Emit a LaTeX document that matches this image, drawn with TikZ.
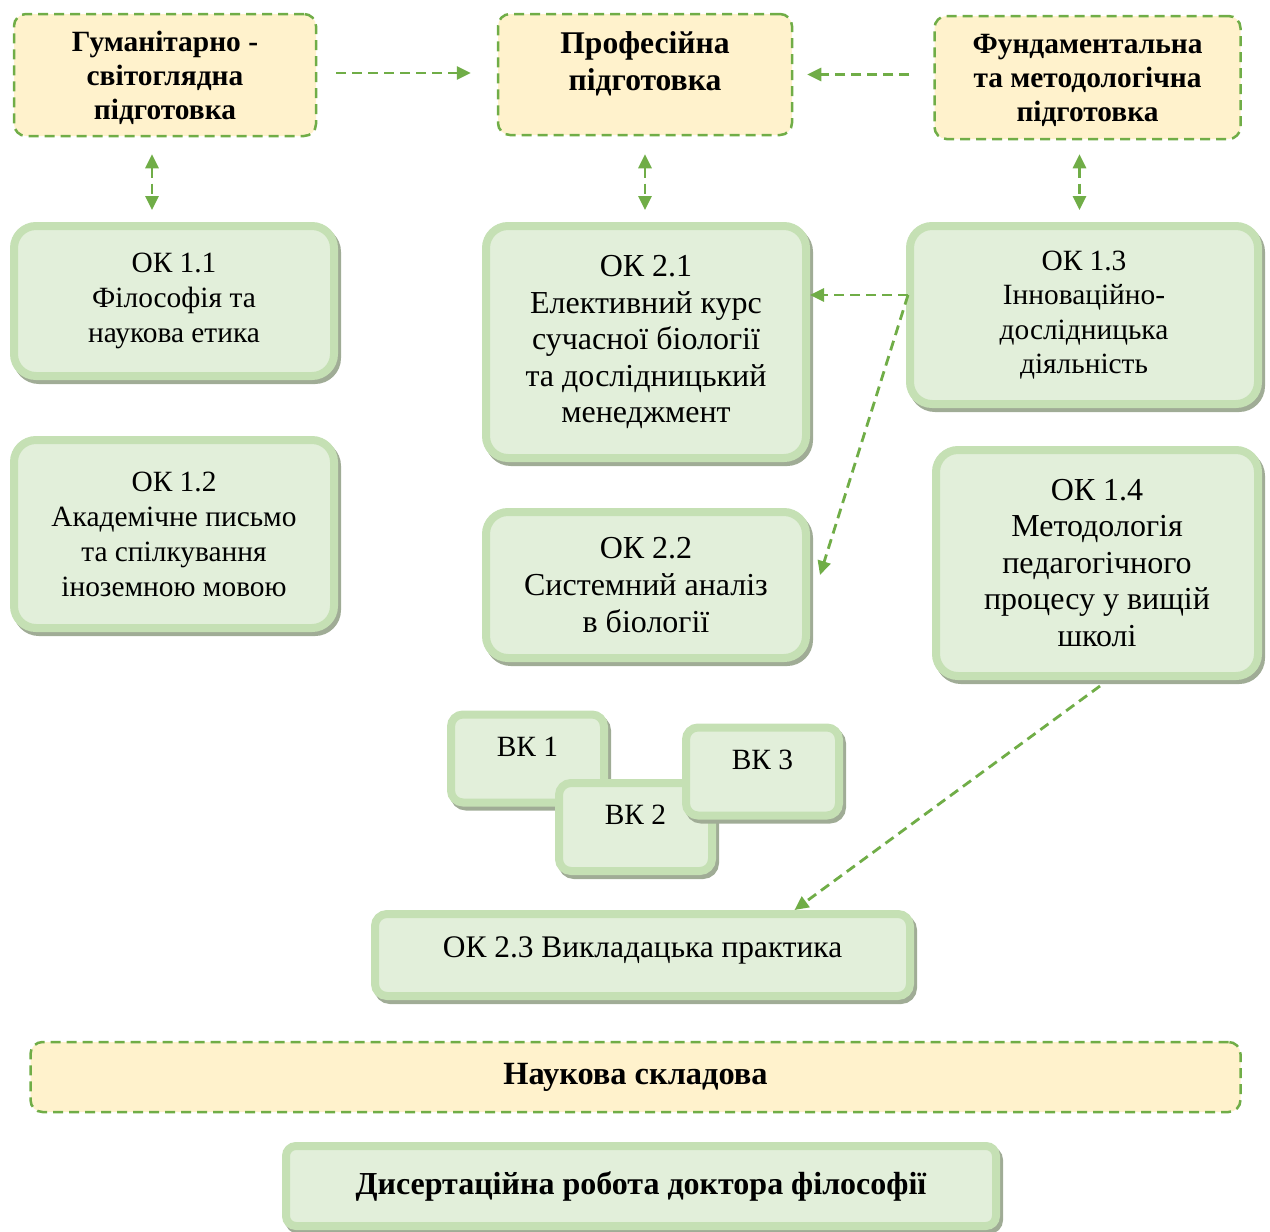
\documentclass[tikz,border=0pt]{standalone}
\usepackage{fontspec}
\setmainfont{Liberation Serif}
\usetikzlibrary{positioning, calc, arrows.meta, shadows}
\definecolor{okfill}{RGB}{226,239,218}
\definecolor{okborder}{RGB}{197,224,180}
\definecolor{shadowgray}{RGB}{160,172,150}
\definecolor{headfill}{RGB}{255,242,204}
\definecolor{dashgreen}{RGB}{112,173,71}

\begin{document}
\begin{tikzpicture}[
    x=0.5pt, y=-0.5pt,
    >={Triangle[length=7pt,width=6.5pt]},
    okbox/.style={
        draw=okborder, fill=okfill, line width=4pt, rounded corners=11pt,
        align=center, inner sep=2pt, font=\fontsize{14.7}{17.5}\selectfont,
        drop shadow={shadow xshift=1.5pt, shadow yshift=-2pt, fill=shadowgray,
                     draw=shadowgray, line width=4pt, opacity=1}
    },
    vkbox/.style={okbox, rounded corners=6pt, minimum width=76.5pt, minimum height=44pt,
                  text depth=12pt},
    headbox/.style={
        draw=dashgreen, fill=headfill, line width=1.25pt, dash pattern=on 5pt off 3pt,
        rounded corners=6pt, align=center, inner sep=2pt,
        font=\fontsize{14.7}{17}\selectfont\bfseries
    },
    flow/.style={->, line width=1.4pt, draw=dashgreen, dash pattern=on 5pt off 3pt},
    flowboth/.style={<->, line width=1.4pt, draw=dashgreen, dash pattern=on 5pt off 3pt},
]
\useasboundingbox (0,0) rectangle (1270,1232);

% top row
\node[headbox, minimum width=151pt, minimum height=61pt, text depth=-1.8pt] (hum) at (165,75)
    {Гуманітарно -\\світоглядна\\підготовка};
\node[headbox, minimum width=147pt, minimum height=60.5pt, text depth=13pt,
      font=\fontsize{15.8}{18.5}\selectfont\bfseries] (prof) at (645,74.5)
    {Професійна\\підготовка};
\node[headbox, minimum width=153pt, minimum height=61.5pt, text depth=-1.8pt] (fund) at (1087.5,77.5)
    {Фундаментальна\\та методологічна\\підготовка};

% courses
\node[okbox, minimum width=160pt, minimum height=75pt] (ok11) at (174,301)
    {ОК 1.1\\Філософія та\\наукова етика};
\node[okbox, minimum width=160pt, minimum height=94pt] (ok12) at (174,534)
    {ОК 1.2\\Академічне письмо\\та спілкування\\іноземною мовою};
\node[okbox, minimum width=160pt, minimum height=116pt,
      font=\fontsize{16}{18.25}\selectfont] (ok21) at (646,342)
    {ОК 2.1\\Елективний курс\\сучасної біології\\та дослідницький\\менеджмент};
\node[okbox, minimum width=160pt, minimum height=73pt,
      font=\fontsize{16}{18.5}\selectfont] (ok22) at (646,585)
    {ОК 2.2\\Системний аналіз\\в біології};
\node[okbox, minimum width=174pt, minimum height=89pt,
      font=\fontsize{14.7}{17.25}\selectfont] (ok13) at (1084,315)
    {ОК 1.3\\Інноваційно-\\дослідницька\\діяльність};
\node[okbox, minimum width=161pt, minimum height=113pt,
      font=\fontsize{16}{18.25}\selectfont] (ok14) at (1097,563)
    {ОК 1.4\\Методологія\\педагогічного\\процесу у вищій\\школі};

% elective courses
\node[vkbox] (vk1) at (527.5,758.5) {ВК 1};
\node[vkbox] (vk2) at (635.5,827) {ВК 2};
\node[vkbox] (vk3) at (762.5,771.5) {ВК 3};

\node[okbox, rounded corners=6pt, minimum width=267.5pt, minimum height=41pt,
      text depth=8pt, font=\fontsize{15.7}{18}\selectfont] (ok23) at (642.5,955)
    {ОК 2.3 Викладацька практика};

% bottom
\node[headbox, minimum width=605pt, minimum height=35pt,
      font=\fontsize{16.2}{18}\selectfont\bfseries] (nauk) at (635.5,1077)
    {Наукова складова};
\node[okbox, rounded corners=5pt, minimum width=355pt, minimum height=40pt,
      font=\fontsize{16}{18}\selectfont\bfseries] (dis) at (641,1186)
    {Дисертаційна робота доктора філософії};

% connectors
\draw[flow, shorten <=9.5pt, shorten >=13pt] ([yshift=1pt]hum.east) -- ([yshift=1pt]hum.east -| prof.west);
\draw[flow, shorten <=12pt, shorten >=7pt] ([yshift=1.5pt]fund.west) -- ([yshift=1.5pt]fund.west -| prof.east);

\draw[flowboth, shorten <=8.5pt, shorten >=6pt] ([xshift=-6.5pt]hum.south) -- ([xshift=-6.5pt]hum.south |- ok11.north);
\draw[flowboth, shorten <=9pt, shorten >=6pt] (prof.south) -- (prof.south |- ok21.north);
\draw[flowboth, shorten <=7pt, shorten >=6pt] ([xshift=-4pt]fund.south) -- ([xshift=-4pt]fund.south |- ok13.north);

\coordinate (split) at ([xshift=1pt, yshift=10pt]ok13.west);
\draw[flow] (split) -- (split -| ok21.east);
\draw[flow] (split) -- ([xshift=5pt, yshift=5pt]ok22.east);
\draw[flow] ([xshift=1.5pt, yshift=-3pt]ok14.south) -- ([xshift=76pt]ok23.north);

\end{tikzpicture}
\end{document}
